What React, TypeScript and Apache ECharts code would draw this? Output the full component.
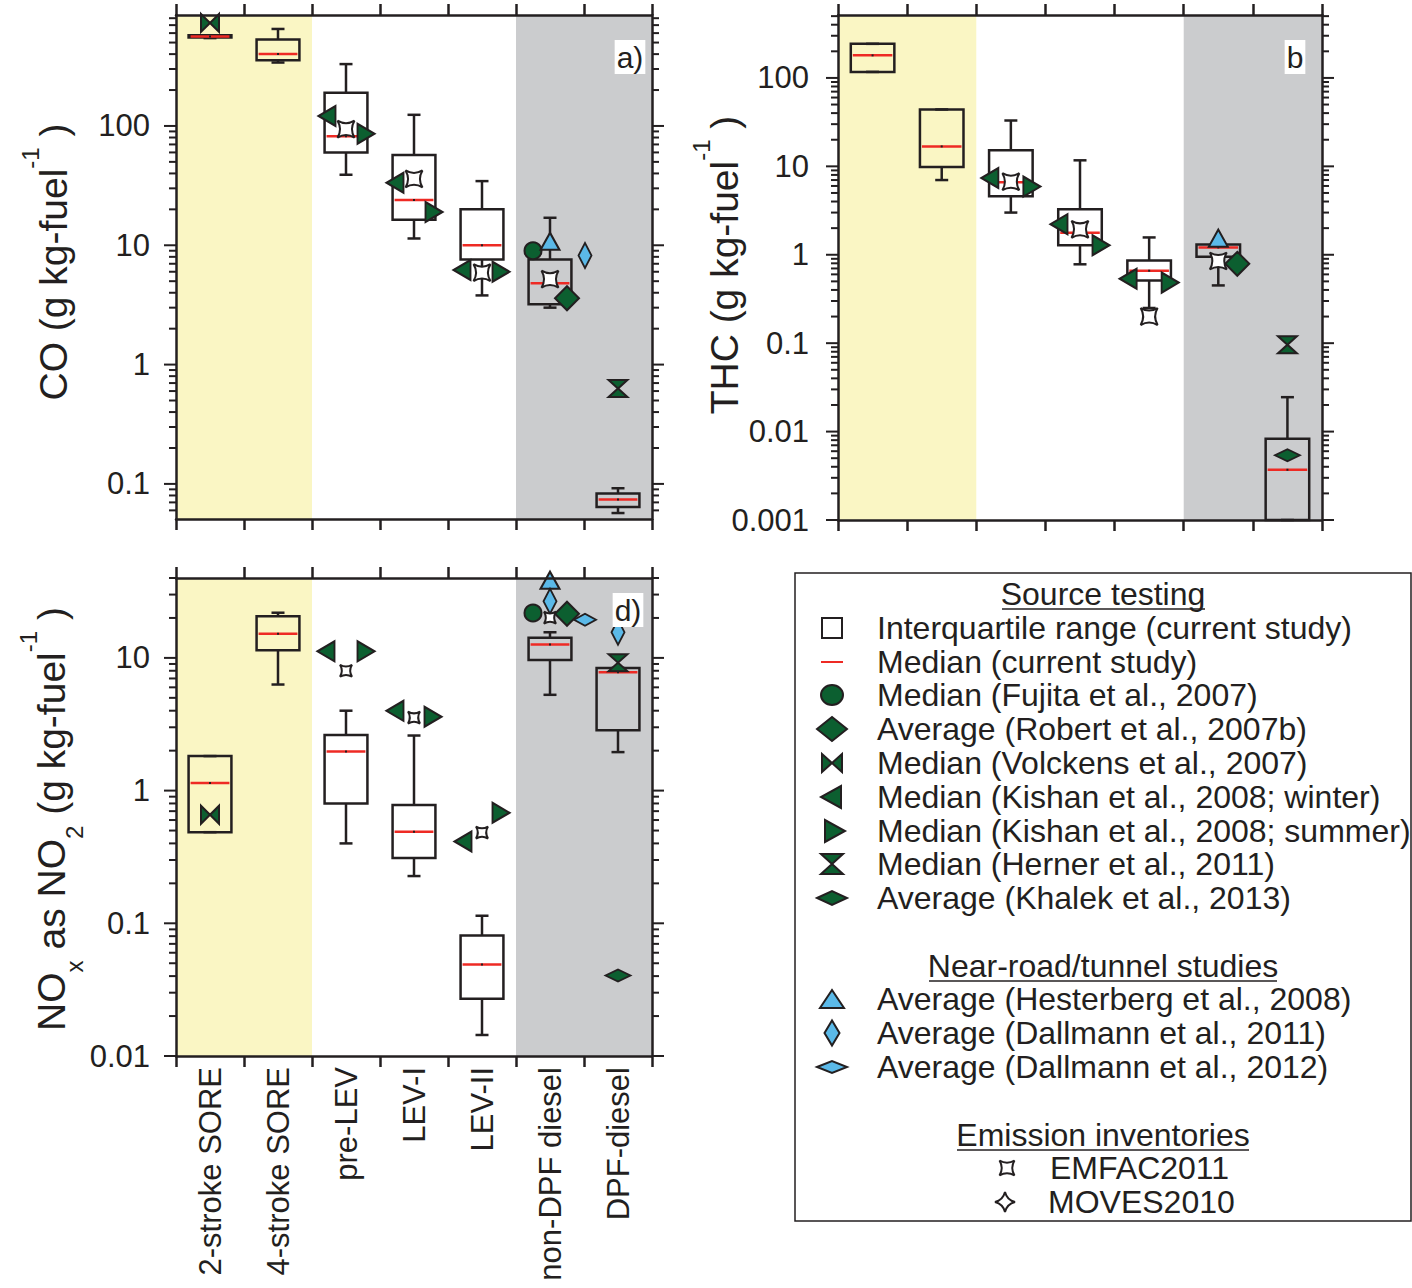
import React, { useEffect, useRef } from 'react';
import * as echarts from 'echarts';

// ---------------- DATA ----------------
const categories = ['2-stroke SORE', '4-stroke SORE', 'pre-LEV', 'LEV-I', 'LEV-II', 'non-DPF diesel', 'DPF-diesel'];

// axis ranges [min, max]
const coRange = [0.0508, 851];
const thcRange = [0.001, 515];
const noxRange = [0.01, 40];

// box statistics per category: [min, q1, median, q3, max]
const coBox = [
  [545, 550, 562, 575, 575],
  [340, 355, 400, 530, 650],
  [39, 60, 82, 190, 330],
  [11.4, 16.4, 24, 57, 124],
  [3.8, 7.6, 10, 20, 34.5],
  [3.0, 3.2, 4.8, 7.6, 17],
  [0.057, 0.064, 0.074, 0.083, 0.092],
];
const thcBox = [
  [117, 117, 180, 243, 243],
  [7.0, 9.8, 16.8, 44, 44],
  [3.0, 4.6, 6.6, 15.2, 33],
  [0.78, 1.28, 1.77, 3.27, 11.7],
  [0.25, 0.51, 0.66, 0.86, 1.57],
  [0.45, 0.95, 1.21, 1.31, 1.31],
  [0.001, 0.001, 0.0037, 0.0083, 0.0245],
];
const noxBox = [
  [0.486, 0.486, 1.14, 1.82, 1.82],
  [6.3, 11.4, 15.2, 20.6, 21.9],
  [0.4, 0.8, 1.97, 2.62, 4.0],
  [0.227, 0.31, 0.49, 0.78, 2.6],
  [0.0144, 0.027, 0.049, 0.081, 0.114],
  [5.27, 9.66, 12.6, 14.2, 15.6],
  [1.95, 2.85, 7.8, 8.4, 8.4],
];

// literature markers: [categoryIndex, value, horizontal offset in px]
const coFujita = [[5, 9.0, -17]];
const coRobert = [[5, 3.6, 17]];
const coVolckens = [[0, 730, 0]];
const coKishanWinter = [[2, 121, -19], [3, 33.4, -19], [4, 6.2, -20]];
const coKishanSummer = [[2, 86, 20], [3, 19, 20], [4, 6.0, 19]];
const coHerner = [[6, 0.63, 0]];
const coHesterberg = [[5, 10.8, 0]];
const coDallmann2011 = [[5, 8.2, 35]];
const coEmfac = [[2, 94, 0], [3, 36, 0], [4, 5.9, 0], [5, 5.2, 0]];

const thcRobert = [[5, 0.79, 19]];
const thcKishanWinter = [[2, 7.4, -21], [3, 2.22, -21], [4, 0.536, -21]];
const thcKishanSummer = [[2, 5.9, 21], [3, 1.28, 21], [4, 0.484, 21]];
const thcHerner = [[6, 0.096, 0]];
const thcKhalek = [[6, 0.0054, 0]];
const thcHesterberg = [[5, 1.54, 0]];
const thcEmfac = [[2, 6.7, 0], [3, 1.94, 0], [4, 0.2, 0], [5, 0.85, 0]];

const noxFujita = [[5, 21.8, -17]];
const noxRobert = [[5, 21.5, 17]];
const noxVolckens = [[0, 0.658, 0]];
const noxKishanWinter = [[2, 11.2, -20], [3, 3.99, -19], [4, 0.413, -19]];
const noxKishanSummer = [[2, 11.2, 20], [3, 3.6, 19], [4, 0.68, 19]];
const noxHerner = [[6, 9.2, 0]];
const noxKhalek = [[6, 0.0404, 0]];
const noxHesterberg = [[5, 38.5, 0]];
const noxDallmann2011 = [[5, 26.7, 0], [6, 15.6, 0]];
const noxDallmann2012 = [[5, 19.4, 35]];
const noxEmfac = [[2, 8.0, 0], [3, 3.55, 0], [4, 0.483, 0], [5, 20.1, 0]];

// legend texts
const legendHeaders = ['Source testing', 'Near-road/tunnel studies', 'Emission inventories'];
const sourceTestingLabels = [
  'Interquartile range (current study)',
  'Median (current study)',
  'Median (Fujita et al., 2007)',
  'Average (Robert et al., 2007b)',
  'Median (Volckens et al., 2007)',
  'Median (Kishan et al., 2008; winter)',
  'Median (Kishan et al., 2008; summer)',
  'Median (Herner et al., 2011)',
  'Average (Khalek et al., 2013)',
];
const nearRoadLabels = ['Average (Hesterberg et al., 2008)', 'Average (Dallmann et al., 2011)', 'Average (Dallmann et al., 2012)'];
const inventoryLabels = ['EMFAC2011', 'MOVES2010'];
const panelLetters = ['a)', 'b', 'd)'];

// ---------------- STYLE ----------------
const INK = '#231f20';
const GREEN = '#0c5f30';
const BLUE = '#5bb9e8';
const RED = '#ee2a24';
const YELLOW = '#faf6c4';
const GRAY = '#cbccce';
const FONT = '"Liberation Sans", Arial, Helvetica, sans-serif';

const SYM = {
  left: 'path://M10 0 L10 10 L0 5 Z',
  right: 'path://M0 0 L0 10 L10 5 Z',
  bowtie: 'path://M0 0 L5 5 L10 0 L10 10 L5 5 L0 10 Z',
  hourglass: 'path://M0 0 L10 0 L5 5 L10 10 L0 10 L5 5 Z',
  emfac: 'path://M0 0 Q5 3 10 0 Q7 5 10 10 Q5 7 0 10 Q3 5 0 0 Z',
};

const EMFAC_D = 'M0 0 Q5 3 10 0 Q7 5 10 10 Q5 7 0 10 Q3 5 0 0 Z';
const MOVES_D = 'M5 0 Q6 4 10 5 Q6 6 5 10 Q4 6 0 5 Q4 4 5 0 Z';
echarts.graphic.registerShape('emfacSym', echarts.graphic.extendPath(EMFAC_D, {}));
echarts.graphic.registerShape('movesSym', echarts.graphic.extendPath(MOVES_D, {}));

const MARK: Record<string, any> = {
  fujita: { symbol: 'circle', size: [17, 17], color: GREEN },
  robert: { symbol: 'diamond', size: [24, 24], color: GREEN },
  volckens: { symbol: SYM.bowtie, size: [18, 18], color: GREEN },
  kishanW: { symbol: SYM.left, size: [17, 20], color: GREEN },
  kishanS: { symbol: SYM.right, size: [17, 20], color: GREEN },
  herner: { symbol: SYM.hourglass, size: [19, 17], color: GREEN },
  khalek: { symbol: 'diamond', size: [25, 12], color: GREEN },
  hesterberg: { symbol: 'triangle', size: [19, 17], color: BLUE },
  dallmann11: { symbol: 'diamond', size: [13, 25], color: BLUE },
  dallmann12: { symbol: 'diamond', size: [22, 12], color: BLUE },
  emfac: { symbol: SYM.emfac, size: [17, 17], color: '#ffffff' },
};

const coMarkers = {
  fujita: coFujita, robert: coRobert, volckens: coVolckens, kishanW: coKishanWinter, kishanS: coKishanSummer,
  herner: coHerner, hesterberg: coHesterberg, dallmann11: coDallmann2011, emfac: coEmfac,
};
const thcMarkers = {
  robert: thcRobert, kishanW: thcKishanWinter, kishanS: thcKishanSummer, herner: thcHerner,
  khalek: thcKhalek, hesterberg: thcHesterberg, emfac: thcEmfac,
};
const noxMarkers = {
  fujita: noxFujita, robert: noxRobert, volckens: noxVolckens, kishanW: noxKishanWinter, kishanS: noxKishanSummer,
  herner: noxHerner, khalek: noxKhalek, hesterberg: noxHesterberg, dallmann11: noxDallmann2011,
  dallmann12: noxDallmann2012, emfac: noxEmfac,
};

const panels = [
  { grid: { left: 176, top: 15, width: 476, height: 504 }, range: coRange, box: coBox, markers: coMarkers, emfacSize: 17, labelMargin: 26, showCats: false },
  { grid: { left: 838, top: 15, width: 484, height: 505 }, range: thcRange, box: thcBox, markers: thcMarkers, emfacSize: 17, labelMargin: 29, showCats: false },
  { grid: { left: 176, top: 578, width: 476, height: 478 }, range: noxRange, box: noxBox, markers: noxMarkers, emfacSize: 12, labelMargin: 26, showCats: true },
];

const fmtLog = (v: number) => {
  const e = Math.log10(v);
  const r = Math.round(e);
  if (Math.abs(e - r) > 1e-6) return '';
  return r >= 0 ? String(Math.pow(10, r)) : '0.' + '0'.repeat(-r - 1) + '1';
};

const logTicks = (min: number, max: number) => {
  const out: number[][] = [];
  for (let e = Math.floor(Math.log10(min)) - 1; e <= Math.ceil(Math.log10(max)); e++) {
    for (let k = 1; k <= 9; k++) {
      const v = k * Math.pow(10, e);
      if (v >= min * 0.999 && v <= max * 1.001) out.push([0, v, k === 1 ? 1 : 0]);
    }
  }
  return out;
};

function buildOption() {
  const grid: any[] = [];
  const xAxis: any[] = [];
  const yAxis: any[] = [];
  const series: any[] = [];
  const axisLine = { show: true, onZero: false, lineStyle: { color: INK, width: 2.5 } };

  panels.forEach((p, g) => {
    grid.push({ ...p.grid, containLabel: false, outerBoundsMode: 'none' });
    const catAxis = (position: string, showLabel: boolean) => ({
      type: 'category', gridIndex: g, data: categories, position, boundaryGap: true, z: 6,
      axisLine,
      axisTick: { show: true, inside: false, length: 11, interval: 0, alignWithLabel: false, lineStyle: { color: INK, width: 2.5 } },
      axisLabel: showLabel
        ? { show: true, rotate: 90, interval: 0, fontSize: 31, fontFamily: FONT, color: INK, margin: 11 }
        : { show: false },
      splitLine: { show: false },
    });
    xAxis.push(catAxis('bottom', p.showCats));
    xAxis.push(catAxis('top', false));
    const valAxis = (position: string, showLabel: boolean) => ({
      type: 'log', logBase: 10, gridIndex: g, position, min: p.range[0], max: p.range[1], z: 6,
      axisLine,
      axisTick: { show: false },
      minorTick: { show: false },
      axisLabel: showLabel
        ? { show: true, formatter: fmtLog, fontSize: 31, fontFamily: FONT, color: INK, margin: p.labelMargin }
        : { show: false },
      splitLine: { show: false },
    });
    yAxis.push(valAxis('left', true));
    yAxis.push(valAxis('right', false));
    const xi = g * 2;
    const yi = g * 2;

    // background bands
    series.push({
      type: 'custom', xAxisIndex: xi, yAxisIndex: yi, silent: true, z: 1, clip: false,
      data: [[0, 1, 1], [5, 6, 1]],
      encode: { x: [0, 1], y: 2 },
      renderItem: (params: any, api: any) => {
        const cs = params.coordSys;
        const bw = api.size([1, 1], [0, 1])[0];
        const x0 = api.coord([api.value(0), 1])[0] - bw / 2;
        const x1 = api.coord([api.value(1), 1])[0] + bw / 2;
        return {
          type: 'rect',
          shape: { x: x0, y: cs.y, width: x1 - x0, height: cs.height },
          style: { fill: params.dataIndex === 0 ? YELLOW : GRAY },
        };
      },
    });

    // boxes
    series.push({
      type: 'custom', xAxisIndex: xi, yAxisIndex: yi, silent: true, z: 3, clip: false,
      data: p.box.map((b, i) => [i, ...b]),
      encode: { x: 0, y: [1, 2, 3, 4, 5] },
      renderItem: (params: any, api: any) => {
        const c = api.value(0);
        const y = (k: number) => api.coord([c, api.value(k)])[1];
        const x = api.coord([c, api.value(3)])[0];
        const bw = api.size([1, 1], [c, 1])[0];
        const half = bw * 0.315;
        const cap = 6.5;
        const yMin = y(1), yQ1 = y(2), yMed = y(3), yQ3 = y(4), yMax = y(5);
        const ln = (x1: number, y1: number, x2: number, y2: number, color = INK) => ({
          type: 'line', shape: { x1, y1, x2, y2 }, style: { stroke: color, lineWidth: 2.5 },
        });
        return {
          type: 'group',
          children: [
            ln(x, yMax, x, yQ3),
            ln(x, yQ1, x, yMin),
            ln(x - cap, yMax, x + cap, yMax),
            ln(x - cap, yMin, x + cap, yMin),
            { type: 'rect', shape: { x: x - half, y: yQ3, width: 2 * half, height: yQ1 - yQ3 }, style: { fill: 'none', stroke: INK, lineWidth: 2.5 } },
            ln(x - half + 2, yMed, x + half - 2, yMed, RED),
            { type: 'rect', shape: { x: x - 1, y: yMed - 1, width: 2, height: 2 }, style: { fill: INK } },
          ],
        };
      },
    });

    // log ticks (major + minor) on both vertical axes
    series.push({
      type: 'custom', xAxisIndex: xi, yAxisIndex: yi, silent: true, z: 4, clip: false,
      data: logTicks(p.range[0], p.range[1]),
      encode: { x: 0, y: 1 },
      renderItem: (params: any, api: any) => {
        const cs = params.coordSys;
        const yy = api.coord([0, api.value(1)])[1];
        const len = api.value(2) ? 12 : 7;
        return {
          type: 'group',
          children: [
            { type: 'line', shape: { x1: cs.x - len, y1: yy, x2: cs.x, y2: yy }, style: { stroke: INK, lineWidth: 2 } },
            { type: 'line', shape: { x1: cs.x + cs.width, y1: yy, x2: cs.x + cs.width + len, y2: yy }, style: { stroke: INK, lineWidth: 2 } },
          ],
        };
      },
    });

    // markers
    Object.entries(p.markers).forEach(([key, pts]: [string, any]) => {
      const m = MARK[key];
      const size = key === 'emfac' ? [p.emfacSize, p.emfacSize] : m.size;
      series.push({
        type: 'scatter', xAxisIndex: xi, yAxisIndex: yi, silent: true, z: 5,
        symbol: m.symbol, symbolSize: size, symbolKeepAspect: false,
        itemStyle: { color: m.color, borderColor: INK, borderWidth: 2, opacity: 1 },
        data: pts.map((d: number[]) => ({ value: [d[0], d[1]], symbolOffset: [d[2], 0] })),
      });
    });
  });

  // ---------- graphics: axis titles, panel letters, legend ----------
  const elements: any[] = [];
  const rich = {
    m: { fontSize: 39, fontFamily: FONT, lineHeight: 70 },
    s: { fontSize: 24, fontFamily: FONT, lineHeight: 24, verticalAlign: 'top' },
    b: { fontSize: 24, fontFamily: FONT, lineHeight: 40, verticalAlign: 'bottom' },
  };
  const title = (text: string, x: number, y: number) => ({
    type: 'text', x, y, rotation: Math.PI / 2, z: 10,
    style: { text, rich, fill: INK, align: 'center', verticalAlign: 'middle' },
  });
  elements.push(title('{m|CO (g kg-fuel}{s|-1}{m| )}', 53, 262));
  elements.push(title('{m|THC (g kg-fuel}{s|-1}{m| )}', 724, 265));
  elements.push(title('{m|NO}{b|x}{m| as NO}{b|2}{m| (g kg-fuel}{s|-1}{m| )}', 51, 819));

  const letterPos = [[630, 57], [1295, 57], [628, 610]];
  panelLetters.forEach((t, i) => {
    elements.push({
      type: 'text', x: letterPos[i][0], y: letterPos[i][1], z: 10,
      style: { text: t, fontSize: 30, fontFamily: FONT, fill: INK, align: 'center', verticalAlign: 'middle', backgroundColor: '#ffffff', padding: [2, 2, 2, 2] },
    });
  });

  // legend frame
  elements.push({ type: 'rect', z: 10, shape: { x: 795, y: 573, width: 616, height: 648 }, style: { fill: '#ffffff', stroke: INK, lineWidth: 1.5 } });

  const headerY = [594, 966, 1135];
  const underline = [[1002, 1205], [929, 1277], [957, 1249]];
  legendHeaders.forEach((h, i) => {
    elements.push({ type: 'text', x: 1103, y: headerY[i], z: 11, style: { text: h, fontSize: 32, fontFamily: FONT, fill: INK, align: 'center', verticalAlign: 'middle' } });
    elements.push({ type: 'line', z: 11, shape: { x1: underline[i][0], y1: headerY[i] + 15, x2: underline[i][1], y2: headerY[i] + 15 }, style: { stroke: INK, lineWidth: 1.5 } });
  });

  const st = (fill: string) => ({ fill, stroke: INK, lineWidth: 2 });
  const poly = (pts: number[][], fill: string) => ({ type: 'polygon', z: 11, shape: { points: pts }, style: st(fill) });
  const diamond = (cx: number, cy: number, w: number, h: number, fill: string) =>
    poly([[cx - w / 2, cy], [cx, cy - h / 2], [cx + w / 2, cy], [cx, cy + h / 2]], fill);
  const legendSymbol = (kind: string, cx: number, cy: number): any => {
    switch (kind) {
      case 'box': return { type: 'rect', z: 11, shape: { x: cx - 10, y: cy - 10, width: 20, height: 20 }, style: st('#ffffff') };
      case 'median': return { type: 'line', z: 11, shape: { x1: cx - 11, y1: cy, x2: cx + 11, y2: cy }, style: { stroke: RED, lineWidth: 2 } };
      case 'fujita': return { type: 'ellipse', z: 11, shape: { cx, cy, rx: 11, ry: 10 }, style: st(GREEN) };
      case 'robert': return diamond(cx, cy, 30, 24, GREEN);
      case 'volckens': return poly([[cx - 10, cy - 9], [cx, cy], [cx + 10, cy - 9], [cx + 10, cy + 9], [cx, cy], [cx - 10, cy + 9]], GREEN);
      case 'kishanW': return poly([[cx + 9, cy - 11], [cx + 9, cy + 11], [cx - 11, cy]], GREEN);
      case 'kishanS': return poly([[cx - 7, cy - 11], [cx - 7, cy + 11], [cx + 13, cy]], GREEN);
      case 'herner': return poly([[cx - 11, cy - 10], [cx + 11, cy - 10], [cx, cy], [cx + 11, cy + 10], [cx - 11, cy + 10], [cx, cy]], GREEN);
      case 'khalek': return diamond(cx, cy, 30, 14, GREEN);
      case 'hesterberg': return poly([[cx - 12, cy + 9], [cx + 12, cy + 9], [cx, cy - 9]], BLUE);
      case 'dallmann11': return diamond(cx, cy, 15, 25, BLUE);
      case 'dallmann12': return diamond(cx, cy, 30, 12, BLUE);
      case 'emfac': return { type: 'emfacSym', z: 11, x: cx - 7.5, y: cy - 7.5, scaleX: 1.5, scaleY: 1.5, style: { fill: '#ffffff', stroke: INK, lineWidth: 1.3 } };
      case 'moves': return { type: 'movesSym', z: 11, x: cx - 10, y: cy - 10, scaleX: 2, scaleY: 2, style: { fill: '#ffffff', stroke: INK, lineWidth: 1 } };
    }
    return null;
  };
  const legendText = (t: string, x: number, y: number) => ({
    type: 'text', x, y, z: 11, style: { text: t, fontSize: 32, fontFamily: FONT, fill: INK, align: 'left', verticalAlign: 'middle' },
  });

  const srcKinds = ['box', 'median', 'fujita', 'robert', 'volckens', 'kishanW', 'kishanS', 'herner', 'khalek'];
  const srcY = [628, 662, 695, 729, 763, 797, 831, 864, 898];
  sourceTestingLabels.forEach((t, i) => {
    elements.push(legendSymbol(srcKinds[i], 832, srcY[i]));
    elements.push(legendText(t, 877, srcY[i]));
  });
  const nearKinds = ['hesterberg', 'dallmann11', 'dallmann12'];
  const nearY = [999, 1033, 1067];
  nearRoadLabels.forEach((t, i) => {
    elements.push(legendSymbol(nearKinds[i], 832, nearY[i]));
    elements.push(legendText(t, 877, nearY[i]));
  });
  const invKinds = ['emfac', 'moves'];
  const invY = [1168, 1202];
  const invSymX = [1007, 1005];
  const invTextX = [1050, 1048];
  inventoryLabels.forEach((t, i) => {
    elements.push(legendSymbol(invKinds[i], invSymX[i], invY[i]));
    elements.push(legendText(t, invTextX[i], invY[i]));
  });

  return {
    animation: false,
    backgroundColor: '#ffffff',
    textStyle: { fontFamily: FONT },
    grid, xAxis, yAxis, series,
    graphic: { elements },
  };
}

export default function App() {
  const ref = useRef<HTMLDivElement>(null);
  useEffect(() => {
    if (!ref.current) return;
    const chart = echarts.init(ref.current, undefined, { renderer: 'svg' });
    chart.setOption(buildOption() as any);
    return () => chart.dispose();
  }, []);
  return <div ref={ref} style={{ position: 'absolute', left: 0, top: 0, width: 1412, height: 1288 }} />;
}
